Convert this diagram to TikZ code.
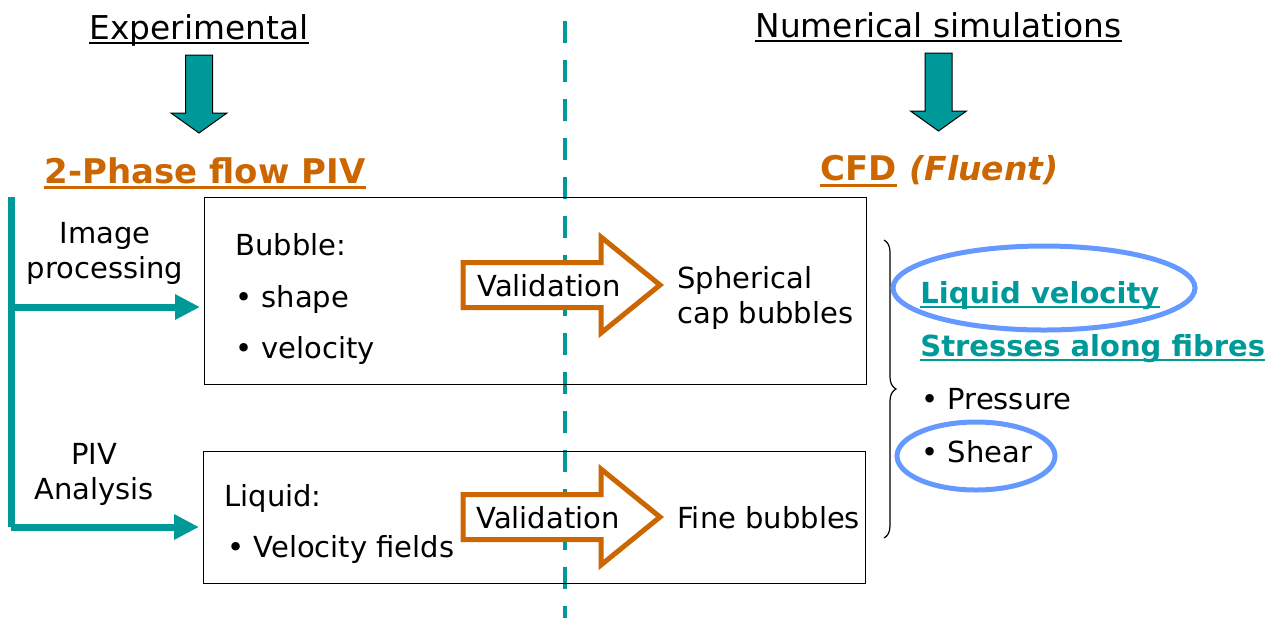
\documentclass[tikz,border=0pt]{standalone}
\usepackage{fontspec}
\setmainfont{DejaVu Sans}
\usetikzlibrary{arrows.meta, decorations.pathreplacing}
\definecolor{pivteal}{RGB}{0,153,153}
\definecolor{pivorange}{RGB}{204,102,0}
\definecolor{pivblue}{RGB}{102,153,255}

\begin{document}
\begin{tikzpicture}[
    x=0.5pt, y=-0.5pt,
    txt/.style={inner sep=0pt, font=\fontsize{14.5}{17.5}\selectfont},
    heading/.style={inner sep=0pt, font=\fontsize{16.4}{20}\selectfont},
    title/.style={inner sep=0pt, text=pivorange, font=\fontsize{17}{20}\selectfont\bfseries},
    result/.style={inner sep=0pt, text=pivteal, font=\fontsize{14.5}{17.5}\selectfont\bfseries},
    box/.style={draw, line width=0.7pt, inner sep=0pt, anchor=north west},
    downarrow/.style={fill=pivteal, draw=black, line width=0.5pt},
    valarrow/.style={draw=pivorange, fill=white, line width=2.5pt, line join=miter},
    feedline/.style={draw=pivteal, line width=3.5pt, line join=miter},
    feed/.style={feedline, -{Triangle[length=12.5pt, width=12pt]}, shorten >=2pt},
    hilite/.style={draw=pivblue, line width=2.5pt},
    uline/.style={line width=1pt}
]
\useasboundingbox (0,0) rectangle (1281,618);

% Headings
\node[heading, anchor=base] (hexp) at (199,39) {Experimental};
\node[heading, anchor=base] (hnum) at (938.5,37) {Numerical simulations};
\draw[uline] ([yshift=-2pt]hexp.base west) -- ([yshift=-2pt]hexp.base east);
\draw[uline] ([yshift=-2pt]hnum.base west) -- ([yshift=-2pt]hnum.base east);

\foreach \cx/\ty in {199/55, 938.5/53}
  \draw[downarrow] (\cx-13.5,\ty) -- ++(27,0) -- ++(0,58) -- ++(14.5,0)
    -- (\cx,\ty+78) -- (\cx-28,\ty+58) -- ++(14.5,0) -- cycle;

\node[title, anchor=base] (piv) at (205,183) {2-Phase flow PIV};
\node[title, anchor=base west] (cfd) at (820,180) {CFD};
\node[title, anchor=base west, font=\fontsize{16.5}{20}\selectfont\bfseries\itshape] (fluent) at (909,180) {(Fluent)};
\draw[uline, pivorange, line width=1.5pt] ([yshift=-2pt]piv.base west) -- ([yshift=-2pt]piv.base east);
\draw[uline, pivorange, line width=1.5pt] ([yshift=-2.5pt]cfd.base west) -- ([yshift=-2.5pt]cfd.base east);

% Divider
\coordinate (divtop) at (565,21);
\coordinate (divbot) at (565,618);
\draw[pivteal, line width=2pt, dash pattern=on 11pt off 8.5pt] (divtop) -- (divbot);

% Boxes
\node[box, minimum width=331pt, minimum height=93.5pt] (bubblebox) at (204,197) {};
\node[box, minimum width=331pt, minimum height=66pt] (liqbox) at (203,451) {};

% Feed lines
\coordinate (feedtop) at (11,197);
\coordinate (feedmid) at (11,307);
\coordinate (feedbot) at (11,527);
\draw[feedline] (feedtop) -- (feedbot);
\draw[feed] (feedmid) -- (feedmid -| bubblebox.west);
\draw[feed] (feedbot) -- (feedbot -| liqbox.west);

\node[txt, align=center, anchor=base] (imgproc) at (105,278) {Image\\processing};
\node[txt, align=center, anchor=base] (pivan) at (94,499) {PIV\\Analysis};

% Validation arrows
\foreach \cy in {285,517}
  \draw[valarrow] (463,\cy-22.5) -- (601,\cy-22.5) -- (601,\cy-48) -- (660,\cy)
    -- (601,\cy+48) -- (601,\cy+22.5) -- (463,\cy+22.5) -- cycle;

% Box texts
\node[txt, anchor=base west] (bubble) at (235,255) {Bubble:};
\node[txt, anchor=base west] (bshape) at (235,307) {• shape};
\node[txt, anchor=base west] (bvel) at (235,358) {• velocity};
\node[txt, anchor=base west] (val1) at (477,296) {Validation};
\node[txt, anchor=base west, align=left] (spher) at (677,323) {Spherical\\cap bubbles};

\node[txt, anchor=base west] (liquid) at (224,506) {Liquid:};
\node[txt, anchor=base west] (vfields) at (227,557) {• Velocity fields};
\node[txt, anchor=base west] (val2) at (476,528) {Validation};
\node[txt, anchor=base west] (fine) at (677,528) {Fine bubbles};

% Results
\coordinate (bracetop) at (884,240);
\coordinate (bracebot) at (884,538);
\draw[line width=0.6pt, decorate, decoration={brace, amplitude=6pt}] (bracetop) -- (bracebot);

\node[result, anchor=base west] (liqvel) at (920,303) {Liquid velocity};
\node[result, anchor=base west] (stress) at (920,356) {Stresses along fibres};
\draw[uline, pivteal, line width=1.2pt] ([yshift=-2pt]liqvel.base west) -- ([yshift=-2pt]liqvel.base east);
\draw[uline, pivteal, line width=1.2pt] ([yshift=-2pt]stress.base west) -- ([yshift=-2pt]stress.base east);
\node[txt, anchor=base west] (press) at (921,409) {• Pressure};
\node[txt, anchor=base west] (shear) at (921,462) {• Shear};

\draw[hilite] (1044,288) ellipse [x radius=151, y radius=42];
\draw[hilite] (976,456) ellipse [x radius=79, y radius=34];

\end{tikzpicture}
\end{document}
